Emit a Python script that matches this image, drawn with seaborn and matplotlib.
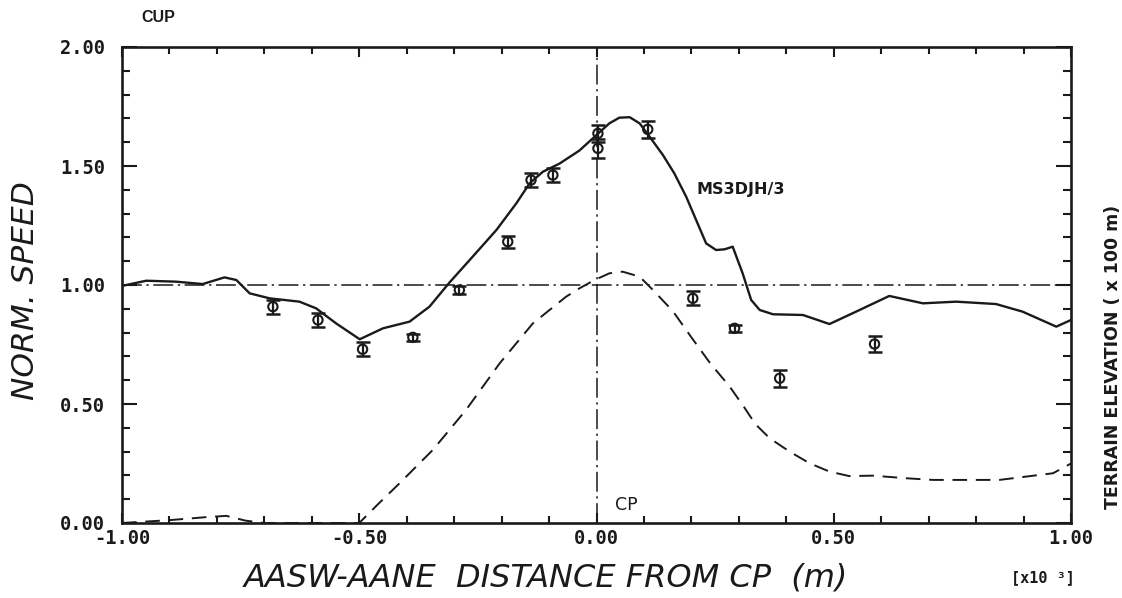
import numpy as np
import pandas as pd
import matplotlib
matplotlib.use("Agg")
import matplotlib.pyplot as plt
import seaborn as sns
from matplotlib.ticker import MultipleLocator, FixedLocator, FixedFormatter

# ---------------- data ----------------
# model (MS3DJH/3) normalized speed
x_model = [-1.0, -0.949, -0.886, -0.830, -0.784, -0.759, -0.731, -0.689, -0.626, -0.591,
           -0.549, -0.499, -0.450, -0.394, -0.352, -0.310, -0.261, -0.211, -0.169, -0.141,
           -0.113, -0.078, -0.036, -0.004, 0.027, 0.048, 0.070, 0.091, 0.112, 0.140,
           0.164, 0.189, 0.210, 0.231, 0.252, 0.270, 0.287, 0.308, 0.326, 0.344,
           0.372, 0.435, 0.491, 0.547, 0.617, 0.688, 0.758, 0.842, 0.898, 0.969, 1.0]
y_model = [0.996, 1.018, 1.014, 1.004, 1.032, 1.021, 0.965, 0.944, 0.930, 0.902,
           0.839, 0.772, 0.818, 0.846, 0.909, 1.010, 1.119, 1.231, 1.343, 1.427,
           1.476, 1.510, 1.565, 1.623, 1.679, 1.703, 1.705, 1.679, 1.623, 1.546,
           1.469, 1.371, 1.273, 1.175, 1.147, 1.150, 1.161, 1.049, 0.937, 0.895,
           0.877, 0.874, 0.836, 0.888, 0.954, 0.923, 0.930, 0.920, 0.888, 0.825, 0.853]

# terrain elevation (x 100 m)
x_terrain = [-1.0, -0.9, -0.82, -0.78, -0.74, -0.7, -0.6, -0.5, -0.46, -0.415,
             -0.345, -0.275, -0.204, -0.134, -0.064, -0.036, -0.004, 0.027, 0.055, 0.091,
             0.119, 0.161, 0.200, 0.240, 0.280, 0.310, 0.335, 0.365, 0.407, 0.449,
             0.491, 0.533, 0.582, 0.653, 0.709, 0.849, 0.962, 1.0]
y_terrain = [0.0, 0.012, 0.025, 0.03, 0.01, 0.0, 0.0, 0.0, 0.08, 0.167,
             0.307, 0.475, 0.671, 0.839, 0.951, 0.986, 1.021, 1.049, 1.056, 1.035,
             0.979, 0.890, 0.780, 0.670, 0.575, 0.490, 0.415, 0.356, 0.300, 0.251,
             0.216, 0.197, 0.199, 0.188, 0.181, 0.181, 0.209, 0.25]

# cup anemometer observations
x_cup = [-0.682, -0.587, -0.493, -0.387, -0.289, -0.187, -0.138, -0.092, 0.003, 0.003,
         0.108, 0.203, 0.291, 0.386, 0.586]
y_cup = [0.909, 0.853, 0.730, 0.780, 0.979, 1.182, 1.441, 1.462, 1.637, 1.574,
         1.654, 0.944, 0.818, 0.608, 0.752]
e_cup = [0.03, 0.03, 0.03, 0.015, 0.015, 0.025, 0.03, 0.03, 0.035, 0.04,
         0.035, 0.03, 0.015, 0.035, 0.035]

x_ticks = [-1.0, -0.5, 0.0, 0.5, 1.0]
x_tick_labels = ["-1.00", "-0.50", "0.00", "0.50", "1.00"]
y_ticks = [0.0, 0.5, 1.0, 1.5, 2.0]
y_tick_labels = ["0.00", "0.50", "1.00", "1.50", "2.00"]

df_model = pd.DataFrame({"x": x_model, "y": y_model})
df_terr = pd.DataFrame({"x": x_terrain, "y": y_terrain})
df_cup = pd.DataFrame({"x": x_cup, "y": y_cup, "e": e_cup})

# ---------------- figure ----------------
sns.set_theme(style="ticks")
plt.rcParams["font.family"] = ["DejaVu Sans"]

fig = plt.figure(figsize=(11.22, 5.98), dpi=100)
fig.patch.set_facecolor("white")
ax = fig.add_axes([122 / 1122, 75 / 598, 949 / 1122, 476 / 598])
ax.set_facecolor("white")

ink = "#1a1a1a"

# reference lines (dash-dot)
dd = (0, (13, 3, 1.5, 3))
ax.axhline(1.0, color=ink, lw=1.1, linestyle=dd, zorder=1)
ax.axvline(0.0, color=ink, lw=1.1, linestyle=dd, zorder=1)

sns.lineplot(data=df_model, x="x", y="y", sort=False, ax=ax, color=ink, lw=1.7,
             estimator=None, zorder=3)
sns.lineplot(data=df_terr, x="x", y="y", sort=False, ax=ax, color=ink, lw=1.4,
             estimator=None, zorder=2, dashes=False)
ax.lines[-1].set_linestyle((0, (7.5, 4.5)))

ax.errorbar(df_cup["x"], df_cup["y"], yerr=df_cup["e"], fmt="none", ecolor=ink,
            elinewidth=1.6, capsize=4.7, capthick=1.8, zorder=4)
sns.scatterplot(data=df_cup, x="x", y="y", ax=ax, marker="o", s=45,
                facecolor="none", edgecolor=ink, linewidth=1.5, zorder=5)

ax.set_xlim(-1.0, 1.0)
ax.set_ylim(0.0, 2.0)
ax.set_xlabel("")
ax.set_ylabel("")

for s in ax.spines.values():
    s.set_visible(True)
    s.set_linewidth(1.9)
    s.set_color(ink)

mono = {"family": "DejaVu Sans Mono", "weight": "bold", "size": 13.5}
ax.xaxis.set_major_locator(FixedLocator(x_ticks))
ax.xaxis.set_major_formatter(FixedFormatter(x_tick_labels))
ax.yaxis.set_major_locator(FixedLocator(y_ticks))
ax.yaxis.set_major_formatter(FixedFormatter(y_tick_labels))
ax.xaxis.set_minor_locator(MultipleLocator(0.1))
ax.yaxis.set_minor_locator(MultipleLocator(0.1))
ax.tick_params(axis="both", which="both", direction="in", color=ink,
               top=True, right=True, width=1.5)
ax.tick_params(axis="y", which="major", length=11, pad=12)
ax.tick_params(axis="y", which="minor", length=6)
ax.tick_params(axis="x", which="major", length=7, pad=4)
ax.tick_params(axis="x", which="minor", length=5)
for lab in ax.get_xticklabels() + ax.get_yticklabels():
    lab.set_fontfamily(mono["family"])
    lab.set_fontweight(mono["weight"])
    lab.set_fontsize(mono["size"])
    lab.set_color(ink)

# texts
fig.text(158 / 1122, 1 - 18 / 598, "CUP", ha="center", va="center",
         fontsize=11.5, fontweight="bold", family="Liberation Sans", color=ink)
fig.text(26 / 1122, 1 - 291 / 598, "NORM. SPEED", rotation=90, ha="center",
         va="center", fontsize=22.5, style="italic", color=ink)
fig.text(546 / 1122, 1 - 578 / 598, "AASW-AANE  DISTANCE FROM CP  (m)", ha="center",
         va="center", fontsize=23, style="italic", color=ink)
fig.text(1043 / 1122, 1 - 578 / 598, "[x10 ³]", ha="center", va="center",
         fontsize=11, fontweight="bold", family="DejaVu Sans Mono", color=ink)
fig.text(1113 / 1122, 1 - 357 / 598, "TERRAIN ELEVATION ( x 100 m)", rotation=90,
         ha="center", va="center", fontsize=12.5, fontweight="bold",
         family="DejaVu Sans", color=ink)
ax.text(0.211, 1.40, "MS3DJH/3", ha="left", va="center", fontsize=11.5,
        fontweight="bold", family="DejaVu Sans", color=ink)
ax.text(0.04, 0.075, "CP", ha="left", va="center", fontsize=12.5, color=ink)

fig.savefig("out.png", dpi=100, facecolor="white")
